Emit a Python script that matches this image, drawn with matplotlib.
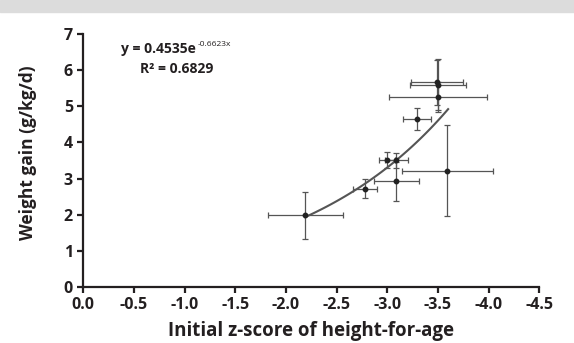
import matplotlib

matplotlib.use("Agg")

import matplotlib.pyplot as plt
import numpy as np
from matplotlib.patches import Rectangle

# data (z-score, weight gain, half-widths of error bars)
z_score = [-2.19, -2.78, -3.00, -3.09, -3.09, -3.29, -3.49, -3.50, -3.50, -3.59]
gain = [1.98, 2.72, 3.52, 3.50, 2.92, 4.64, 5.66, 5.60, 5.25, 3.22]
z_err = [0.37, 0.12, 0.08, 0.11, 0.22, 0.14, 0.26, 0.28, 0.48, 0.45]
gain_err = [0.66, 0.26, 0.22, 0.22, 0.55, 0.30, 0.62, 0.70, 0.42, 1.26]

# exponential fit printed on the chart
fit_a = 0.4535
fit_b = -0.6623
fit_r2 = 0.6829
fit_range = (-2.19, -3.6)

x_ticks = [0.0, -0.5, -1.0, -1.5, -2.0, -2.5, -3.0, -3.5, -4.0, -4.5]
y_ticks = [0, 1, 2, 3, 4, 5, 6, 7]

plt.rcParams["font.family"] = ["Open Sans", "DejaVu Sans"]
ink = "#231f20"

fig = plt.figure(figsize=(5.74, 3.43), dpi=100)
fig.patches.append(Rectangle((0, 1 - 12 / 343), 1, 12 / 343, transform=fig.transFigure,
                             color="#dcdcdc", zorder=0))
ax = fig.add_axes([0.1451, 0.1633, 0.7945, 0.7376])

ax.errorbar(z_score, gain, xerr=z_err, yerr=gain_err, fmt="o", ms=3.2,
            color="#222222", ecolor="#555555", elinewidth=0.9, capsize=2.2,
            capthick=0.9, zorder=3)

xs = np.linspace(fit_range[0], fit_range[1], 100)
ax.plot(xs, fit_a * np.exp(fit_b * xs), color="#555555", lw=1.5, zorder=2)

ax.set_xlim(0, -4.5)
ax.set_ylim(0, 7)
ax.set_xticks(x_ticks)
ax.set_xticklabels([f"{t:.1f}" for t in x_ticks])
ax.set_yticks(y_ticks)
for side in ("top", "right"):
    ax.spines[side].set_visible(False)
for side in ("left", "bottom"):
    ax.spines[side].set_linewidth(1.6)
    ax.spines[side].set_color(ink)
ax.tick_params(direction="out", length=4, width=1.6, color=ink, labelsize=11.5,
               labelcolor=ink, pad=3.5)
for lab in ax.get_xticklabels() + ax.get_yticklabels():
    lab.set_fontweight("bold")

ax.set_xlabel("Initial z-score of height-for-age", fontsize=13.5, fontweight="bold",
              color=ink, labelpad=5.5)
ax.set_ylabel("Weight gain (g/kg/d)", fontsize=12.5, fontweight="bold", color=ink)
ax.yaxis.set_label_coords(-0.102, 0.53)

eq = ax.text(0.083, 0.942, "y = 0.4535e", transform=ax.transAxes, fontsize=10,
             fontweight="bold", color=ink, ha="left", va="center")
fig.canvas.draw()
bb = eq.get_window_extent()
sx, sy = ax.transAxes.inverted().transform((bb.x1 + 2, bb.y1 - 3))
ax.text(sx, sy, f"{fit_b}x", transform=ax.transAxes, fontsize=6,
        color=ink, ha="left", va="center")
ax.text(0.125, 0.862, f"R\u00b2 = {fit_r2}", transform=ax.transAxes, fontsize=10,
        fontweight="bold", color=ink, ha="left", va="center")

fig.savefig("out.png", dpi=100)
